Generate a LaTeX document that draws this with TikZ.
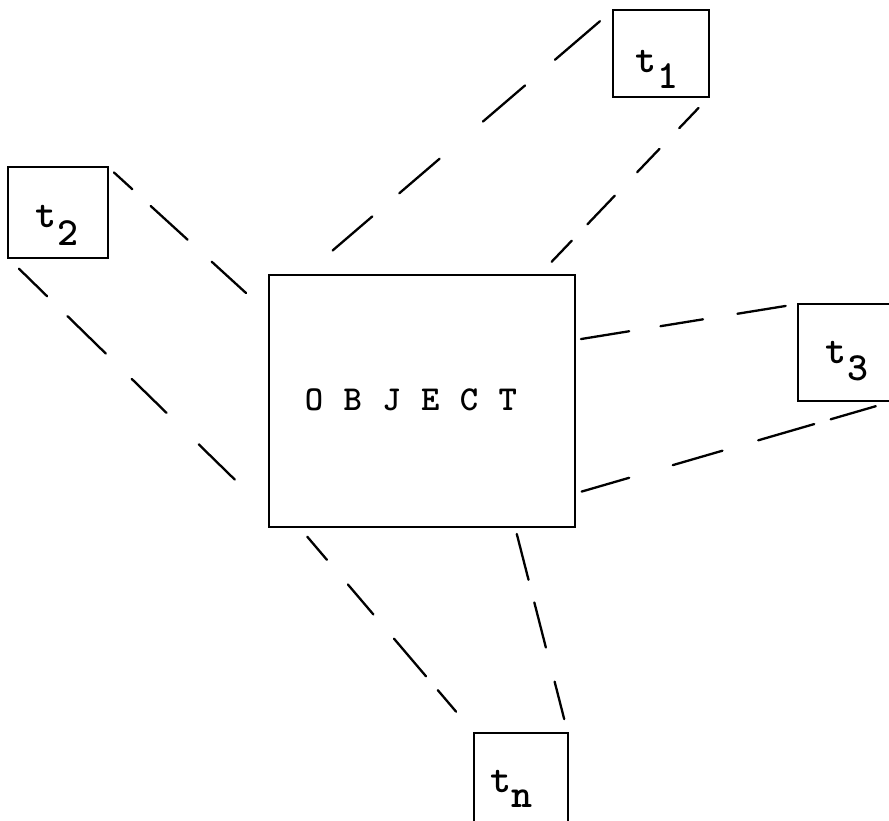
\documentclass[tikz,border=0pt]{standalone}
\usepackage{fontspec}
\usetikzlibrary{calc}
\newcommand\widespaced[1]{\spaceskip=20.4pt\relax #1}
\begin{document}
\begin{tikzpicture}[x=1pt,y=-1pt,
  box/.style={draw, line width=2.4pt, inner sep=0pt, outer sep=0pt, line join=miter},
  tie/.style={line width=2.3pt, line cap=round},
  tfont/.style={font=\ttfamily\bfseries\fontsize{40}{40}\selectfont},
  lbl/.style={tfont, inner sep=0pt, anchor=base west},
  objtext/.style={font=\ttfamily\bfseries\fontsize{35}{35}\selectfont, inner sep=0pt},
]
\useasboundingbox (0,0) rectangle (889,820);
\fill[white] (0,0) rectangle (889,820);

% central object and the four views
\node[box, minimum width=306pt, minimum height=252pt] (obj) at (422,401) {};
\node[objtext] (objl) at (411,400) {\widespaced{O B J E C T}};

\node[box, minimum width=96pt,   minimum height=87pt]   (t1) at (661,53.5) {};
\node[box, minimum width=100pt,  minimum height=91pt]   (t2) at (58,212.5) {};
\node[box, minimum width=97pt,   minimum height=96.7pt] (t3) at (846.2,352.35) {};
\node[box, minimum width=93.7pt, minimum height=90pt]   (tn) at (520.85,777.7) {};

\node[lbl] (t1l) at (635.5,72)  {t\hspace{1pt}\raisebox{-16pt}{1}};
\node[lbl] (t2l) at (35.5,227)  {t\hspace{1pt}\raisebox{-18pt}{2}};
\node[lbl] (t3l) at (825.5,363) {t\hspace{1pt}\raisebox{-17pt}{3}};
\node[lbl] (tnl) at (490.5,792) {t\hspace{0pt}\raisebox{-15pt}{n}};

% hand-drawn style dashed projectors
\draw[tie, shorten <=17.2pt, shorten >=37.7pt,
  dash pattern=on 59.2pt off 39.4pt on 55.5pt off 57.2pt on 53pt off 35.6pt on 52.3pt off 300pt]
  (t1.north west) -- ($(obj.north west)+(35,0)$);
\draw[tie, shorten <=15pt, shorten >=18.3pt,
  dash pattern=on 28.1pt off 28.6pt on 32.3pt off 32.5pt on 39.4pt off 22.9pt on 29pt off 300pt]
  (t1.south east) -- ($(obj.north east)+(-36,0)$);

\draw[tie, shorten <=8.1pt, shorten >=31.1pt,
  dash pattern=on 24.8pt off 24.8pt on 50.1pt off 32.5pt on 46.6pt off 300pt]
  (t2.north east) -- ($(obj.north west)+(0,39)$);
\draw[tie, shorten <=15.3pt, shorten >=47.9pt,
  dash pattern=on 39.4pt off 28.5pt on 53.5pt off 36.3pt on 48.6pt off 45pt on 50.4pt off 300pt]
  (t2.south west) -- ($(obj.south west)+(0,-14)$);

\draw[tie, shorten <=6pt, shorten >=12.2pt,
  dash pattern=on 48.9pt off 31.7pt on 43.1pt off 34.8pt on 48.9pt off 300pt]
  ($(obj.north east)+(0,65)$) -- (t3.north west);
\draw[tie, shorten <=6.9pt, shorten >=19.7pt,
  dash pattern=on 49.5pt off 45.4pt on 51.7pt off 37.3pt on 58.3pt off 17.1pt on 47pt off 300pt]
  ($(obj.south east)+(0,-33.5)$) -- (t3.south east);

\draw[tie, shorten <=12.8pt, shorten >=27.6pt,
  dash pattern=on 30.3pt off 32.4pt on 39.3pt off 31.8pt on 49.5pt off 18.1pt on 28.3pt off 300pt]
  ($(obj.south west)+(30,0)$) -- (tn.north west);
\draw[tie, shorten <=7.2pt, shorten >=14pt,
  dash pattern=on 47.3pt off 23.4pt on 46.5pt off 35.2pt on 38.7pt off 300pt]
  ($(obj.south east)+(-60,0)$) -- (tn.north east);
\end{tikzpicture}
\end{document}
